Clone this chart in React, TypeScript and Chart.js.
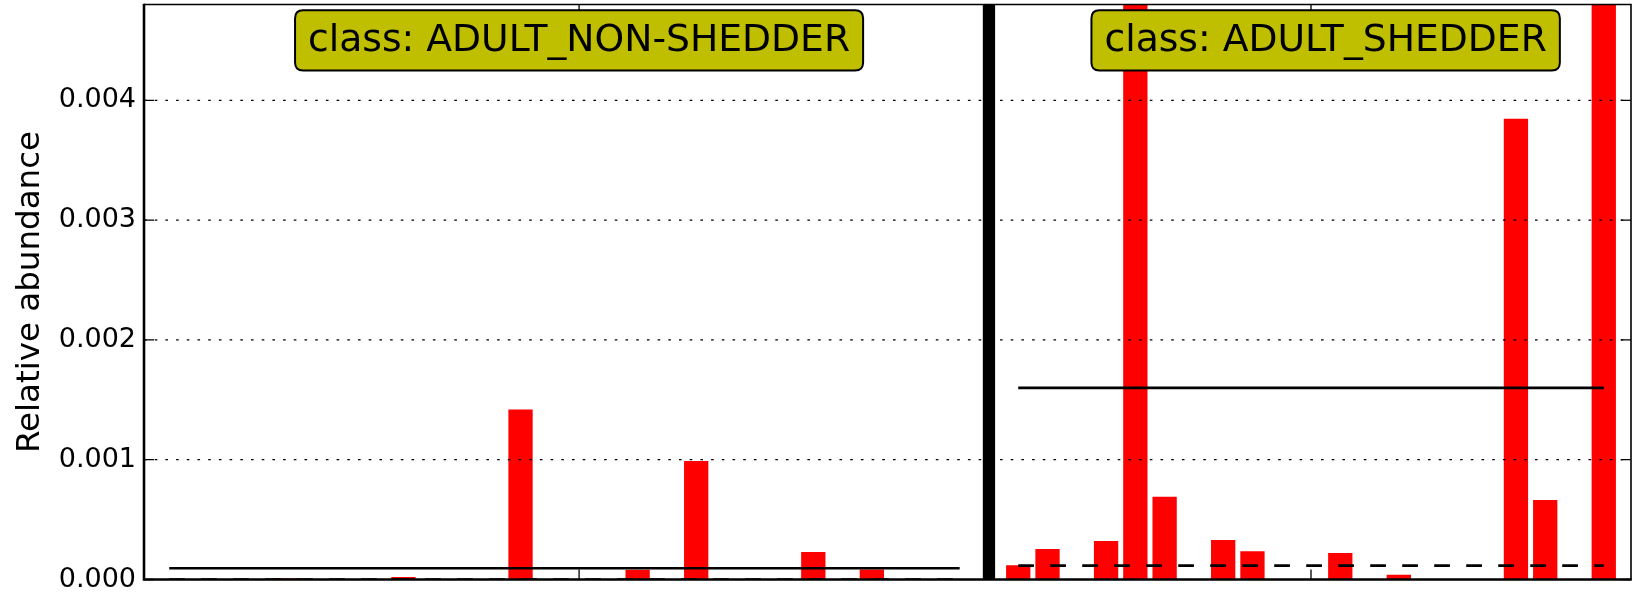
import React, { useEffect, useRef } from 'react';
import { Chart, registerables } from 'chart.js';

Chart.register(...registerables);

const FONT = "'DejaVu Sans', 'Liberation Sans', sans-serif";

// Sample positions (index 28 is the gap between the two classes)
const nonShedderIdx = [0, 1, 2, 3, 4, 5, 6, 7, 8, 9, 10, 11, 12, 13, 14, 15, 16, 17, 18, 19, 20, 21, 22, 23, 24, 25, 26, 27];
const nonShedderValues = [
  0, 0, 0, 0, 0.00001, 0, 0, 0, 0.00002, 0, 0, 0, 0.00142, 0,
  0, 0, 0.000082, 0, 0.00099, 0, 0, 0, 0.00023, 0, 0.000084, 0, 0, 0,
];
const shedderIdx = [29, 30, 31, 32, 33, 34, 35, 36, 37, 38, 39, 40, 41, 42, 43, 44, 45, 46, 47, 48, 49];
const shedderValues = [
  0.000119, 0.000255, 0, 0.000322, 0.0135, 0.00069, 0, 0.00033, 0.000235, 0, 0,
  0.000221, 0, 0.00004, 0, 0, 0, 0.003846, 0.000664, 0, 0.0134,
];

const classNames = ['ADULT_NON-SHEDDER', 'ADULT_SHEDDER'];
const classMeans = [0.0000935, 0.0016];
const classMedians = [0, 0.000115];
const classFirst = [0, 29];
const classLast = [27, 49];
const classLabelX = [14, 39.5];
const separatorX = 28;

const xTickValues = [14, 39];
const yTickValues = [0, 0.001, 0.002, 0.003, 0.004];
const yTickLabels = ['0.000', '0.001', '0.002', '0.003', '0.004'];
const Y_MIN = 0;
const Y_MAX = 0.0048;
const X_MIN = -0.861;
const X_MAX = 49.93;
const Y_TITLE = 'Relative abundance';

const decorPlugin = {
  id: 'decor',
  afterDatasetsDraw(chart: any) {
    const { ctx, chartArea: a } = chart;
    const x = chart.scales.x;
    const y = chart.scales.y;
    ctx.save();

    // dotted grid
    ctx.strokeStyle = '#000';
    ctx.lineWidth = 1.3;
    ctx.setLineDash([2.6, 8.1]);
    for (const v of yTickValues) {
      if (v === 0) continue;
      const py = y.getPixelForValue(v);
      ctx.beginPath();
      ctx.moveTo(a.left, py);
      ctx.lineTo(a.right, py);
      ctx.stroke();
    }
    ctx.setLineDash([]);

    // inward tick marks
    ctx.lineWidth = 1.3;
    for (const v of yTickValues) {
      const py = y.getPixelForValue(v);
      ctx.beginPath();
      ctx.moveTo(a.left, py);
      ctx.lineTo(a.left + 10, py);
      ctx.moveTo(a.right, py);
      ctx.lineTo(a.right - 10, py);
      ctx.stroke();
    }
    for (const v of xTickValues) {
      const px = x.getPixelForValue(v);
      ctx.beginPath();
      ctx.moveTo(px, a.bottom);
      ctx.lineTo(px, a.bottom - 10);
      ctx.moveTo(px, a.top);
      ctx.lineTo(px, a.top + 9);
      ctx.stroke();
    }

    // frame
    ctx.lineWidth = 1.6;
    ctx.beginPath();
    ctx.moveTo(a.left, a.top);
    ctx.lineTo(a.right, a.top);
    ctx.lineTo(a.right, a.bottom);
    ctx.stroke();
    ctx.lineWidth = 2.6;
    ctx.beginPath();
    ctx.moveTo(a.left, a.top - 0.8);
    ctx.lineTo(a.left, a.bottom);
    ctx.lineTo(a.right + 0.8, a.bottom);
    ctx.stroke();

    // class label boxes
    ctx.font = `37.7px ${FONT}`;
    ctx.textAlign = 'center';
    ctx.textBaseline = 'alphabetic';
    classNames.forEach((name, i) => {
      const text = 'class: ' + name;
      const cx = x.getPixelForValue(classLabelX[i]);
      const w = ctx.measureText(text).width + 26;
      const bx = cx - w / 2;
      const by = 10.3;
      const bh = 60.2;
      const r = 8;
      ctx.beginPath();
      ctx.moveTo(bx + r, by);
      ctx.lineTo(bx + w - r, by);
      ctx.quadraticCurveTo(bx + w, by, bx + w, by + r);
      ctx.lineTo(bx + w, by + bh - r);
      ctx.quadraticCurveTo(bx + w, by + bh, bx + w - r, by + bh);
      ctx.lineTo(bx + r, by + bh);
      ctx.quadraticCurveTo(bx, by + bh, bx, by + bh - r);
      ctx.lineTo(bx, by + r);
      ctx.quadraticCurveTo(bx, by, bx + r, by);
      ctx.closePath();
      ctx.fillStyle = 'rgb(191,191,0)';
      ctx.fill();
      ctx.lineWidth = 2;
      ctx.strokeStyle = '#000';
      ctx.stroke();
      ctx.fillStyle = '#000';
      ctx.fillText(text, cx, 51);
    });

    // y axis title
    ctx.font = `32.5px ${FONT}`;
    ctx.translate(38.5, (a.top + a.bottom) / 2);
    ctx.rotate(-Math.PI / 2);
    ctx.textAlign = 'center';
    ctx.textBaseline = 'alphabetic';
    ctx.fillStyle = '#000';
    ctx.fillText(Y_TITLE, 0, 0);

    ctx.restore();
  },
};

export default function App() {
  const ref = useRef<HTMLCanvasElement>(null);

  useEffect(() => {
    document.body.style.margin = '0';
    const barData = nonShedderIdx
      .map((xv, i) => ({ x: xv, y: nonShedderValues[i] }))
      .concat(shedderIdx.map((xv, i) => ({ x: xv, y: shedderValues[i] })));

    const lineSets: any[] = [];
    classNames.forEach((_, i) => {
      lineSets.push({
        type: 'line',
        data: [
          { x: classFirst[i], y: classMeans[i] },
          { x: classLast[i], y: classMeans[i] },
        ],
        borderColor: '#000',
        borderWidth: 2.6,
        pointRadius: 0,
        borderCapStyle: 'butt',
        fill: false,
        order: 0,
      });
      lineSets.push({
        type: 'line',
        data: [
          { x: classFirst[i], y: classMedians[i] },
          { x: classLast[i], y: classMedians[i] },
        ],
        borderColor: '#000',
        borderWidth: 2.7,
        borderDash: [15.7, 16.3],
        pointRadius: 0,
        borderCapStyle: 'butt',
        fill: false,
        order: 0,
      });
    });
    lineSets.push({
      type: 'line',
      data: [
        { x: separatorX, y: Y_MIN },
        { x: separatorX, y: Y_MAX },
      ],
      borderColor: '#000',
      borderWidth: 12.3,
      pointRadius: 0,
      borderCapStyle: 'butt',
      fill: false,
      order: 0,
    });

    const chart = new Chart(ref.current as HTMLCanvasElement, {
      type: 'bar',
      data: {
        datasets: [
          {
            type: 'bar',
            data: barData as any,
            backgroundColor: '#ff0000',
            borderWidth: 0,
            barPercentage: 0.83,
            categoryPercentage: 1,
            order: 1,
          } as any,
          ...lineSets,
        ],
      },
      options: {
        animation: false,
        responsive: false,
        devicePixelRatio: 1,
        events: [],
        layout: { padding: { top: 4.5, right: 2, bottom: 13.5, left: 0 } },
        plugins: {
          legend: { display: false },
          tooltip: { enabled: false },
        },
        scales: {
          x: {
            type: 'linear',
            min: X_MIN,
            max: X_MAX,
            offset: false,
            display: false,
            afterBuildTicks: (s: any) => {
              s.ticks = xTickValues.map((v) => ({ value: v }));
            },
          },
          y: {
            type: 'linear',
            min: Y_MIN,
            max: Y_MAX,
            afterBuildTicks: (s: any) => {
              s.ticks = yTickValues.map((v) => ({ value: v }));
            },
            afterFit: (s: any) => {
              s.width = 144;
              s.paddingTop = 0;
              s.paddingBottom = 0;
            },
            grid: { display: false, drawTicks: false },
            border: { display: false },
            ticks: {
              padding: 8,
              color: '#000',
              font: { family: FONT, size: 27 },
              callback: (v: any) => {
                const k = yTickValues.findIndex((t) => Math.abs(t - Number(v)) < 1e-9);
                return k >= 0 ? yTickLabels[k] : '';
              },
            },
          },
        },
      },
      plugins: [decorPlugin],
    } as any);

    return () => chart.destroy();
  }, []);

  return (
    <div style={{ width: 1633, height: 593 }}>
      <canvas ref={ref} width={1633} height={593} style={{ display: 'block' }} />
    </div>
  );
}
